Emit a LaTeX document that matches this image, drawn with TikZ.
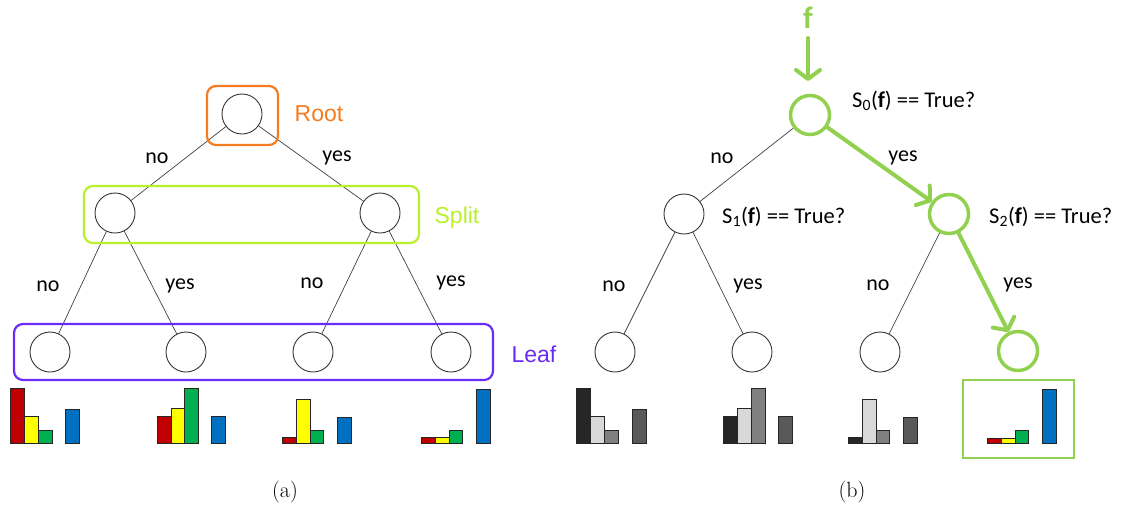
\documentclass[tikz,border=0pt]{standalone}
\usepackage{fontspec}
\newfontfamily\carl{Carlito}
\newfontfamily\arl{Liberation Sans}
\usetikzlibrary{arrows.meta}
\definecolor{rootc}{HTML}{F47B20}
\definecolor{splitc}{HTML}{B8F02A}
\definecolor{leafc}{HTML}{6A2CF5}
\definecolor{pathc}{HTML}{92D050}
\definecolor{hred}{HTML}{C00000}
\definecolor{hyel}{HTML}{FFFF00}
\definecolor{hgrn}{HTML}{00B050}
\definecolor{hblu}{HTML}{0070C0}
\definecolor{gblk}{HTML}{262626}
\definecolor{glgt}{HTML}{D9D9D9}
\definecolor{gmid}{HTML}{808080}
\definecolor{gdrk}{HTML}{595959}
\newcommand\histbar[4]{\draw[fill=#4,draw=black!85,line width=0.8pt] (#1,443) rectangle (#2,#3);}
\begin{document}
\begin{tikzpicture}[x=1pt,y=-1pt,
  circ/.style={circle,draw=black!80,line width=0.9pt,minimum size=40pt,inner sep=0pt},
  gcirc/.style={circle,draw=pathc,line width=3.5pt,minimum size=39pt,inner sep=0pt},
  treeedge/.style={draw=black!75,line width=0.7pt},
  garrow/.style={draw=pathc,line width=4pt,line cap=round,-{Straight Barb[length=9pt,width=24pt,round]}},
  lbl/.style={font=\carl\fontsize{22}{25}\selectfont,inner sep=0pt},
  cond/.style={font=\carl\fontsize{22.5}{25}\selectfont,inner sep=0pt,anchor=west},
  grp/.style={font=\arl\fontsize{23}{26}\selectfont,inner sep=0pt},
  grpbox/.style={line width=2.2pt,rounded corners=9pt},
  captxt/.style={font=\fontsize{22}{25}\selectfont,inner sep=0pt}
]
\useasboundingbox (0,0) rectangle (1123,509);

% ---------------- (a) ----------------
\node[circ] (a0) at (242,114) {};
\node[circ] (a1) at (115,213) {};
\node[circ] (a2) at (380,213) {};
\node[circ] (a3) at (50,352) {};
\node[circ] (a4) at (186,352) {};
\node[circ] (a5) at (313,352) {};
\node[circ] (a6) at (451,352) {};
\draw[treeedge] (a0) -- (a1);
\draw[treeedge] (a0) -- (a2);
\draw[treeedge] (a1) -- (a3);
\draw[treeedge] (a1) -- (a4);
\draw[treeedge] (a2) -- (a5);
\draw[treeedge] (a2) -- (a6);
\node[lbl] (la1) at (157,158) {no};
\node[lbl] (la2) at (337,158) {yes};
\node[lbl] (la3) at (48,286) {no};
\node[lbl] (la4) at (180,286) {yes};
\node[lbl] (la5) at (312,283) {no};
\node[lbl] (la6) at (451,283) {yes};

\draw[grpbox,draw=rootc] (207,86) rectangle (278,145);
\draw[grpbox,draw=splitc] (84,186) rectangle (419,243);
\draw[grpbox,draw=leafc] (14,324) rectangle (493,380);
\node[grp,text=rootc] (troot) at (319,114) {Root};
\node[grp,text=splitc] (tsplit) at (457,218) {Split};
\node[grp,text=leafc] (tleaf) at (534,354) {Leaf};

% histograms (a)
\histbar{10}{24}{388}{hred}\histbar{24}{38}{416}{hyel}\histbar{38}{52}{430}{hgrn}\histbar{65}{79}{409}{hblu}
\histbar{157}{171}{416}{hred}\histbar{171}{184}{408}{hyel}\histbar{184}{198}{388}{hgrn}\histbar{211}{225}{416}{hblu}
\histbar{282}{296}{437}{hred}\histbar{296}{310}{399}{hyel}\histbar{310}{323}{430}{hgrn}\histbar{337}{351}{417}{hblu}
\histbar{421}{435}{437}{hred}\histbar{435}{449}{437}{hyel}\histbar{449}{462}{430}{hgrn}\histbar{476}{490}{389}{hblu}

\node[captxt] (capa) at (285,492) {(a)};

% ---------------- (b) ----------------
\node[gcirc] (b0) at (810,115) {};
\node[circ] (b1) at (684,214) {};
\node[gcirc] (b2) at (949,214) {};
\node[circ] (b3) at (615,352) {};
\node[circ] (b4) at (752,352) {};
\node[circ] (b5) at (880,352) {};
\node[gcirc] (b6) at (1018,351) {};
\draw[treeedge] (b0) -- (b1);
\draw[treeedge] (b1) -- (b3);
\draw[treeedge] (b1) -- (b4);
\draw[treeedge] (b2) -- (b5);
\draw[garrow] (b0) -- (b2);
\draw[garrow] (b2) -- (b6);

\node[text=pathc,font=\carl\bfseries\fontsize{31}{33}\selectfont,inner sep=0pt] (f) at (808,18) {f};
\coordinate (fa) at (808,38);
\coordinate (fb) at (808,81);
\draw[garrow] (fa) -- (fb);

\node[lbl] (lb1) at (722,158) {no};
\node[lbl] (lb2) at (903,158) {yes};
\node[lbl] (lb3) at (614,286) {no};
\node[lbl] (lb4) at (748,286) {yes};
\node[lbl] (lb5) at (878,285) {no};
\node[lbl] (lb6) at (1018,285) {yes};

\node[cond] (s0) at (852,101) {S\textsubscript{0}(\textbf{f}) == True?};
\node[cond] (s1) at (722,217) {S\textsubscript{1}(\textbf{f}) == True?};
\node[cond] (s2) at (989,217) {S\textsubscript{2}(\textbf{f}) == True?};

% histograms (b)
\histbar{576}{590}{388}{gblk}\histbar{590}{604}{416}{glgt}\histbar{604}{618}{430}{gmid}\histbar{632}{646}{409}{gdrk}
\histbar{723}{737}{416}{gblk}\histbar{737}{751}{408}{glgt}\histbar{751}{765}{388}{gmid}\histbar{778}{792}{416}{gdrk}
\histbar{848}{862}{437}{gblk}\histbar{862}{876}{399}{glgt}\histbar{876}{889}{430}{gmid}\histbar{903}{917}{417}{gdrk}
\histbar{987}{1001}{438}{hred}\histbar{1001}{1015}{438}{hyel}\histbar{1015}{1028}{430}{hgrn}\histbar{1042}{1056}{389}{hblu}
\draw[draw=pathc,line width=2.5pt] (963,380) rectangle (1074,458);

\node[captxt] (capb) at (852,492) {(b)};
\end{tikzpicture}
\end{document}
